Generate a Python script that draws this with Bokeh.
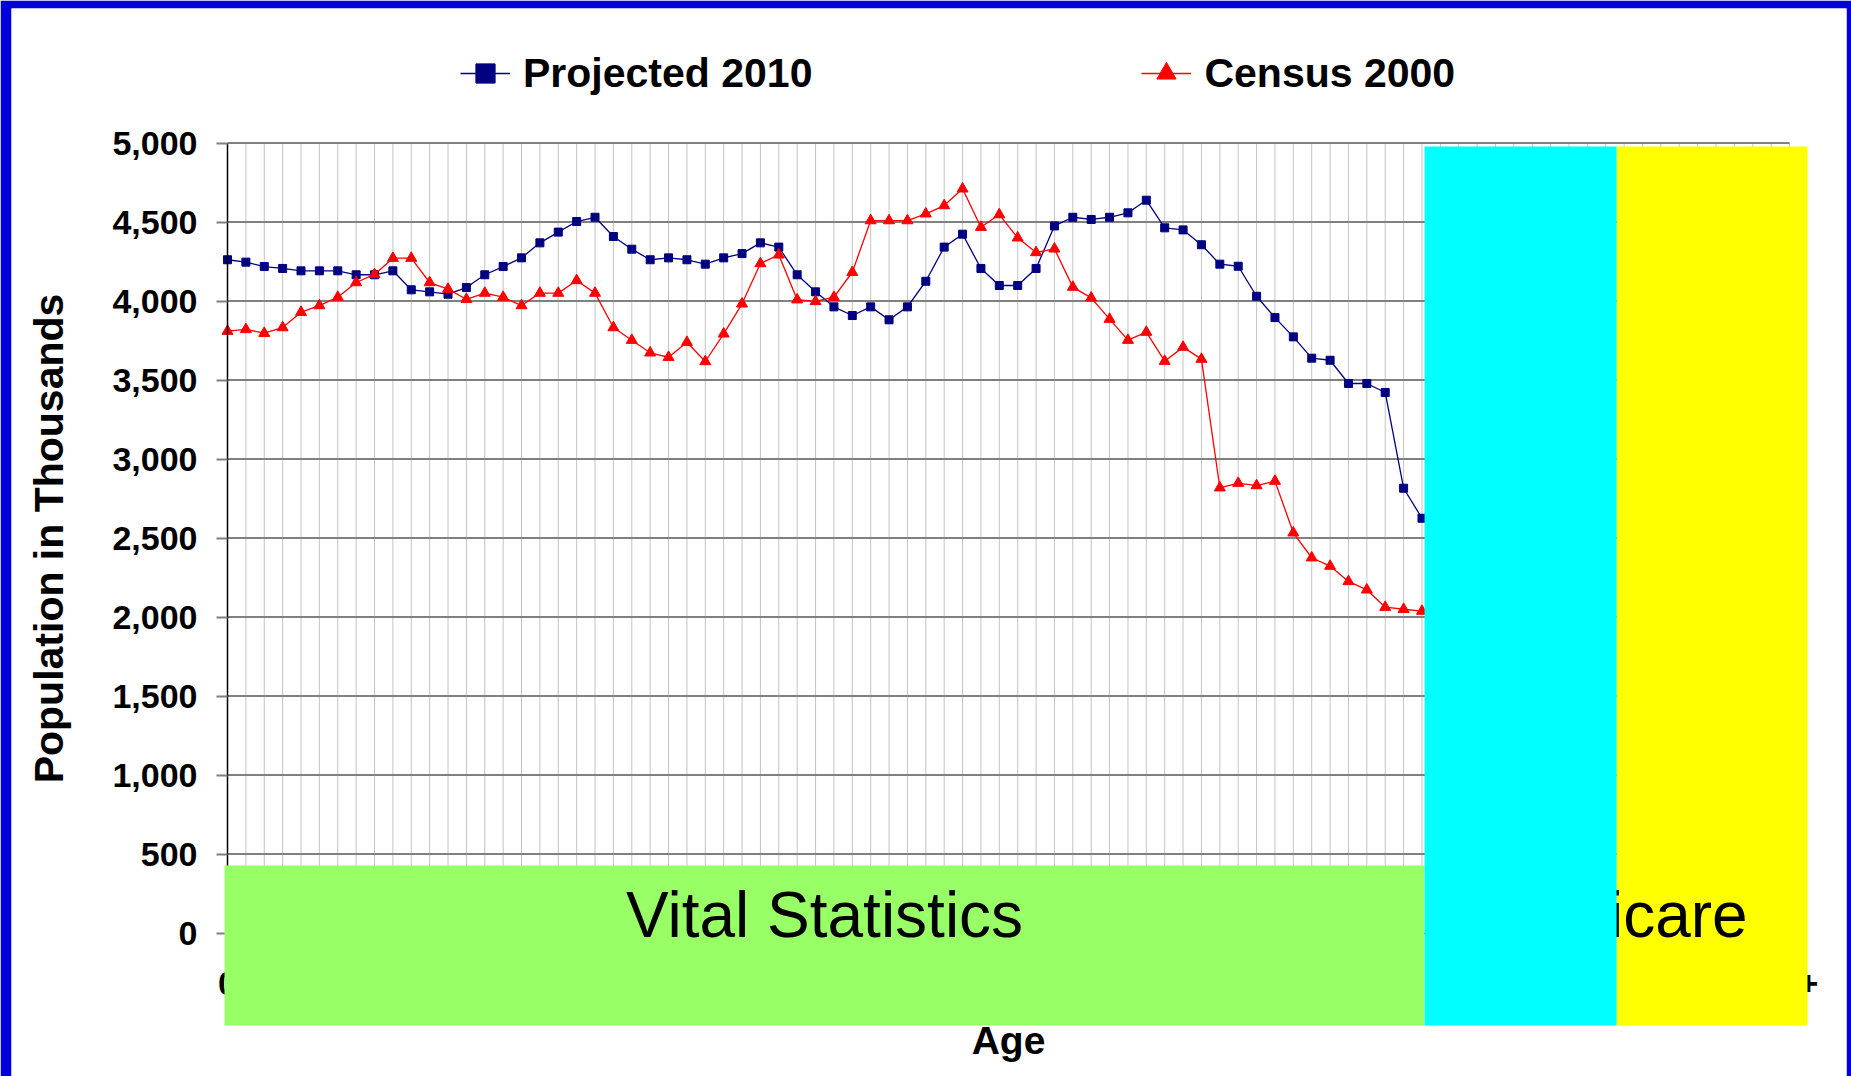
from bokeh.plotting import figure
from bokeh.models import Range1d, FixedTicker, NumeralTickFormatter
from bokeh.core.properties import value
from bokeh.embed import file_html
from bokeh.resources import INLINE

# ---------------- data ----------------
ages = list(range(66))
projected_2010 = [
    4261, 4246, 4218, 4206, 4191, 4191, 4191, 4166, 4166, 4191,
    4071, 4058, 4043, 4085, 4166, 4218, 4273, 4368, 4436, 4503,
    4530, 4408, 4328, 4261, 4273, 4261, 4233, 4273, 4300, 4368,
    4341, 4166, 4058, 3963, 3908, 3963, 3881, 3963, 4125, 4341,
    4423, 4206, 4098, 4098, 4206, 4475, 4530, 4516, 4530, 4558,
    4638, 4463, 4450, 4356, 4233, 4220, 4030, 3895, 3773, 3638,
    3625, 3478, 3478, 3421, 2815, 2625,
]
census_2000 = [
    3809, 3820, 3796, 3832, 3929, 3971, 4024, 4117, 4168, 4271,
    4271, 4117, 4075, 4011, 4050, 4024, 3971, 4050, 4050, 4130,
    4050, 3832, 3752, 3672, 3644, 3739, 3617, 3792, 3982, 4237,
    4292, 4008, 3997, 4024, 4182, 4509, 4509, 4509, 4552, 4604,
    4710, 4467, 4547, 4400, 4307, 4330, 4088, 4020, 3885, 3752,
    3803, 3619, 3708, 3632, 2818, 2847, 2832, 2860, 2533, 2375,
    2322, 2225, 2172, 2062, 2049, 2037,
]
age_categories = list(range(86))          # 0 ... 85+
x_tick_values = [0, 85]
x_tick_labels = {85: "85+"}
y_ticks = [0, 500, 1000, 1500, 2000, 2500, 3000, 3500, 4000, 4500, 5000]
series_names = ["Projected 2010", "Census 2000"]
band_labels = ["Vital Statistics", "Medicare"]

# ---------------- layout (pixels) ----------------
W, H = 1851, 1076
FRAME_L, FRAME_R, FRAME_T, FRAME_B = 11, 1846, 8, 1076
X0_PX, X85_PX = 227.0, 1789.0
Y0_PX, Y5000_PX = 932.5, 142.5

sx = (X85_PX - X0_PX) / 85.0
sy = (Y0_PX - Y5000_PX) / 5000.0
x_start = -(X0_PX - FRAME_L) / sx
x_end = (FRAME_R - X0_PX) / sx
y_end = (Y0_PX - FRAME_T) / sy
y_start = -(FRAME_B - Y0_PX) / sy

# band edges (age units / population units)
GREEN_LEFT = -0.163
SPLIT_1 = 65.14     # start of cyan band
SPLIT_2 = 75.59     # start of yellow band
BAND_RIGHT = 85.98
GREEN_TOP = 427
BAND_TOP = 4978
BAND_BOTTOM = -585
TEXT_Y = 113

FONT = "Liberation Sans"

p = figure(width=W, height=H,
           x_range=Range1d(x_start, x_end), y_range=Range1d(y_start, y_end),
           output_backend="svg", toolbar_location=None,
           min_border_left=FRAME_L, min_border_right=W - FRAME_R,
           min_border_top=FRAME_T, min_border_bottom=H - FRAME_B)
p.title.visible = False
p.outline_line_color = None
p.xgrid.visible = False
p.ygrid.visible = False
p.background_fill_color = "white"
p.border_fill_color = "#0000DC"

# gridlines
p.segment(x0=age_categories, x1=age_categories, y0=0, y1=5000,
          line_color="#c4c4c4", line_width=1)
p.segment(x0=0, x1=85, y0=y_ticks[1:], y1=y_ticks[1:],
          line_color="#808080", line_width=2)

# series
p.line(ages, projected_2010, line_color="#000080", line_width=1.3,
       legend_label=series_names[0])
p.scatter(ages, projected_2010, marker="square", size=8,
          fill_color="#000080", line_color="#000080",
          legend_label=series_names[0])
p.line(ages, census_2000, line_color="#FF0000", line_width=1.3,
       legend_label=series_names[1])
p.scatter(ages, census_2000, marker="triangle", size=11,
          fill_color="#FF0000", line_color="#FF0000",
          legend_label=series_names[1])

# y axis
yax = p.yaxis[0]
yax.fixed_location = 0
yax.bounds = (0, 5000)
yax.ticker = FixedTicker(ticks=y_ticks)
yax.formatter = NumeralTickFormatter(format="0,0")
yax.minor_tick_line_color = None
yax.major_tick_in = 0
yax.major_tick_out = 11
yax.major_tick_line_color = "#808080"
yax.major_tick_line_width = 2
yax.axis_line_color = "black"
yax.axis_line_width = 1.5
yax.major_label_text_font = FONT
yax.major_label_text_font_size = "34px"
yax.major_label_text_font_style = "bold"
yax.major_label_text_color = "black"
yax.major_label_standoff = 19
yax.axis_label = "Population in Thousands"
yax.axis_label_text_font = FONT
yax.axis_label_text_font_size = "41px"
yax.axis_label_text_font_style = "bold"
yax.axis_label_text_color = "black"
yax.axis_label_standoff = 37

# x axis
xax = p.xaxis[0]
xax.fixed_location = 0
xax.bounds = (0, 85)
xax.ticker = FixedTicker(ticks=x_tick_values)
xax.major_label_overrides = x_tick_labels
xax.minor_tick_line_color = None
xax.major_tick_in = 0
xax.major_tick_out = 0
xax.axis_line_color = "black"
xax.major_label_text_font = FONT
xax.major_label_text_font_size = "34px"
xax.major_label_text_font_style = "bold"
xax.major_label_text_color = "black"
xax.major_label_standoff = 39
xax.axis_label = "Age"
xax.axis_label_text_font = FONT
xax.axis_label_text_font_size = "39px"
xax.axis_label_text_font_style = "bold"
xax.axis_label_text_color = "black"
xax.axis_label_standoff = 20

# legend
leg = p.legend[0]
leg.orientation = "horizontal"
leg.location = (449, 979)
leg.border_line_color = None
leg.background_fill_alpha = 0
leg.padding = 0
leg.margin = 0
leg.spacing = 329
leg.glyph_width = 50
leg.glyph_height = 48
leg.label_height = 48
leg.label_standoff = 13
leg.label_text_font = FONT
leg.label_text_font_size = "41px"
leg.label_text_font_style = "bold"
leg.label_text_color = "black"

# overlay bands (drawn over axes)
r = p.quad(left=GREEN_LEFT, right=SPLIT_1, bottom=BAND_BOTTOM, top=GREEN_TOP,
           fill_color="#99FF66", line_color=None)
r.level = "overlay"
r = p.text(x=[(GREEN_LEFT + SPLIT_1) / 2], y=[TEXT_Y], text=[band_labels[0]],
           text_font=value(FONT), text_font_size=value("64px"),
           text_align="center", text_baseline="alphabetic", text_color="black")
r.level = "overlay"
r = p.quad(left=SPLIT_2, right=BAND_RIGHT, bottom=BAND_BOTTOM, top=BAND_TOP,
           fill_color="#FFFF00", line_color=None)
r.level = "overlay"
r = p.text(x=[(SPLIT_1 + BAND_RIGHT) / 2], y=[TEXT_Y], text=[band_labels[1]],
           text_font=value(FONT), text_font_size=value("64px"),
           text_align="center", text_baseline="alphabetic", text_color="black")
r.level = "overlay"
r = p.quad(left=SPLIT_1, right=SPLIT_2, bottom=BAND_BOTTOM, top=BAND_TOP,
           fill_color="#00FFFF", line_color=None)
r.level = "overlay"

open("out.html", "w").write(file_html(p, INLINE))
